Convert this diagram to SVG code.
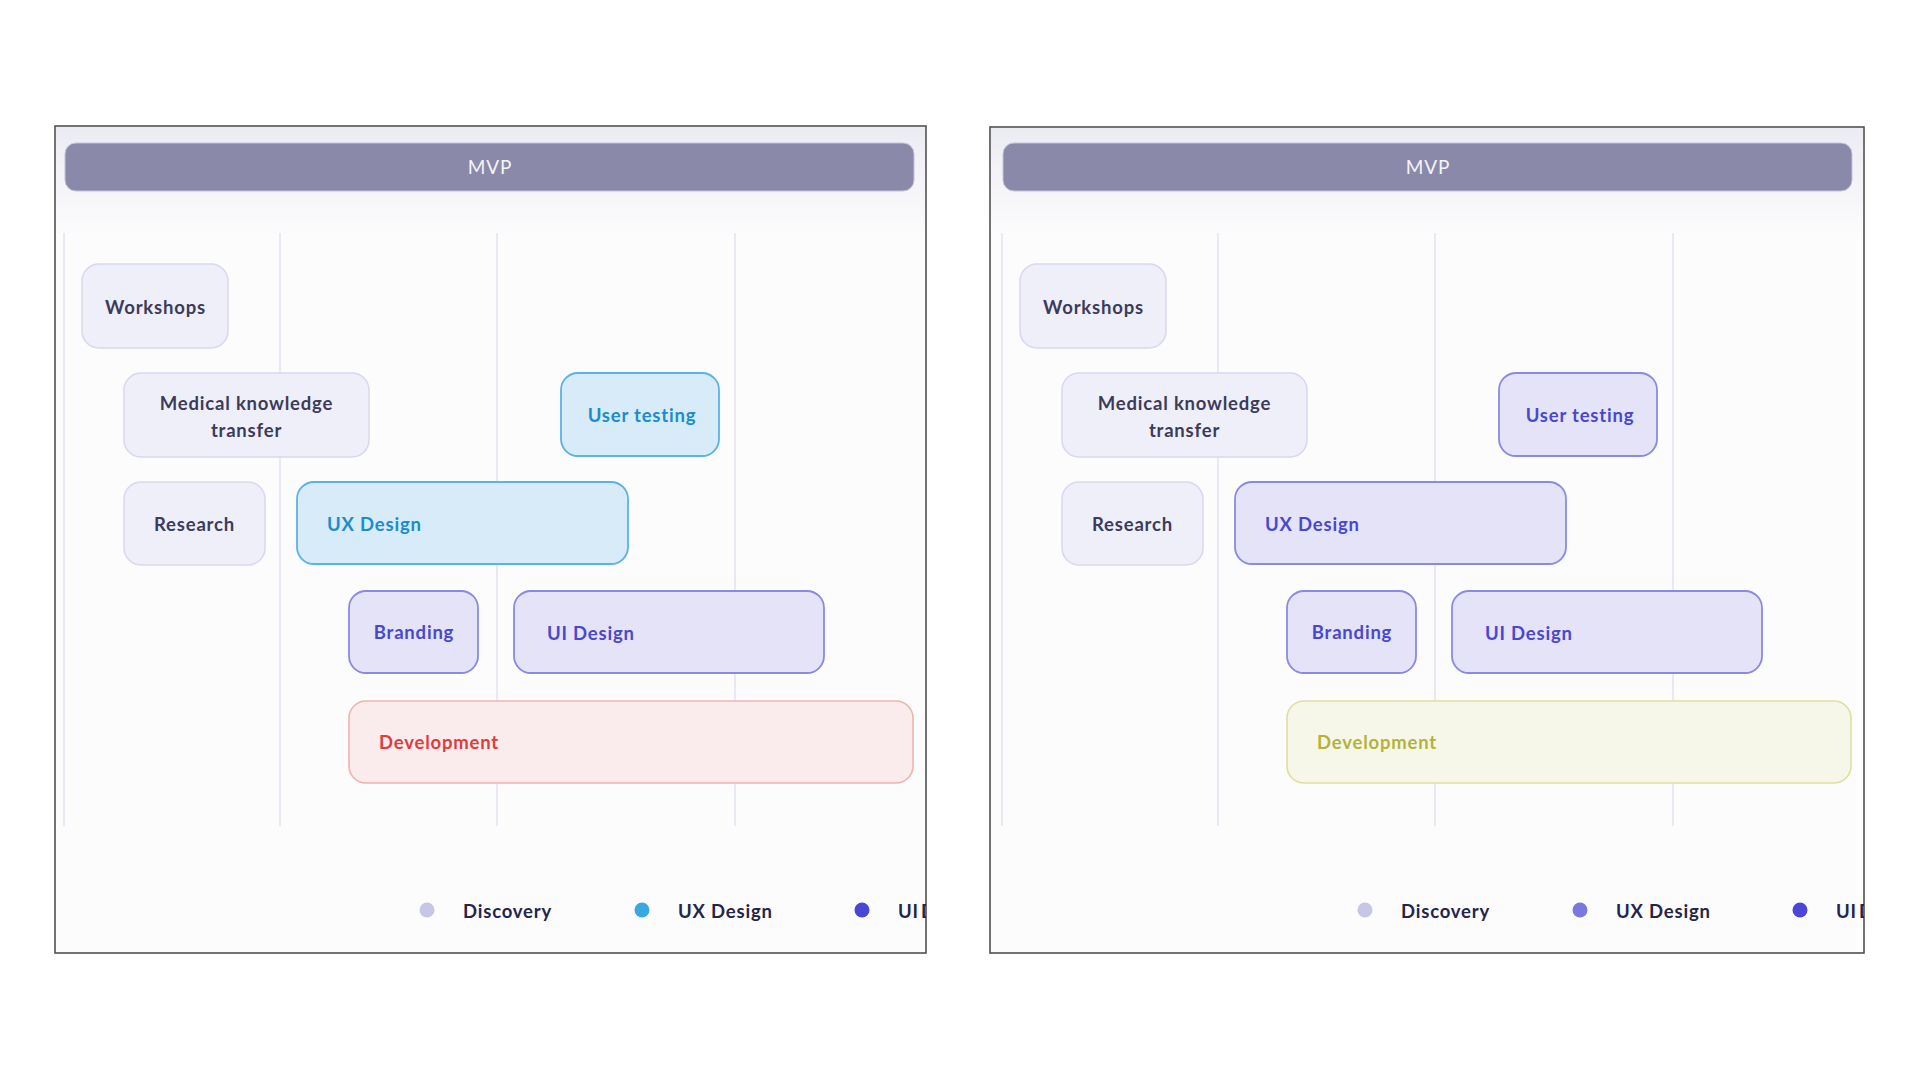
<svg xmlns="http://www.w3.org/2000/svg" width="1920" height="1080" viewBox="0 0 1920 1080">
  <defs>
    <linearGradient id="headShade" x1="0" y1="0" x2="0" y2="1">
      <stop offset="0" stop-color="#ebebf2"/>
      <stop offset="0.55" stop-color="#f5f5f9"/>
      <stop offset="1" stop-color="#fcfcfd"/>
    </linearGradient>
    <clipPath id="clipA"><rect x="55" y="126" width="871" height="827"/></clipPath>
    <clipPath id="clipB"><rect x="990" y="127" width="874" height="826"/></clipPath>
  </defs>
  <style>
    text { font-family: Lato, "Noto Sans", "Liberation Sans", sans-serif; font-size: 18.5px; font-weight: 700; letter-spacing: 0.8px; }
    .panel { fill: #fcfcfd; stroke: #505050; stroke-width: 1.6; }
    .shade { fill: url(#headShade); }
    .bar { fill: #8a89aa; stroke: #c4c3da; stroke-width: 1; }
    .barText { fill: #f4f4f8; font-weight: 400; font-size: 19px; text-anchor: middle; }
    .grid { stroke: #e3e2ef; stroke-width: 1.5; }
    .disc rect { fill: #efeff9; stroke: #d9d7ef; stroke-width: 1.5; }
    .disc text { fill: #3c3b5c; text-anchor: middle; }
    .ux rect { fill: #d7ebf8; stroke: #5ab3e6; stroke-width: 1.8; }
    .ux text { fill: #1b8dcd; }
    .ui rect { fill: #e4e3f7; stroke: #8b89e4; stroke-width: 1.8; }
    .ui text { fill: #4a47cf; }
    .devA rect { fill: #faecec; stroke: #f1b2b2; stroke-width: 1.6; }
    .devA text { fill: #e03b3d; }
    .devB rect { fill: #f6f7e9; stroke: #dfdf9e; stroke-width: 1.6; }
    .devB text { fill: #b3b33a; }
    .mid { text-anchor: middle; }
    .legend text { fill: #25244a; }
    .legend .tight { word-spacing: -3px; }
  </style>

  <!-- Left board -->
  <g id="boardA">
    <rect class="panel" x="55" y="126" width="871" height="827"/>
    <g clip-path="url(#clipA)">
      <rect class="shade" x="56" y="127" width="869" height="110"/>
      <g id="gridA">
        <line class="grid" x1="64" y1="233" x2="64" y2="826"/>
        <line class="grid" x1="280" y1="233" x2="280" y2="826"/>
        <line class="grid" x1="497" y1="233" x2="497" y2="826"/>
        <line class="grid" x1="735" y1="233" x2="735" y2="826"/>
      </g>
      <g id="mvpA">
        <rect class="bar" x="65" y="143" width="849" height="48" rx="11"/>
        <text class="barText" x="490" y="174">MVP</text>
      </g>
      <g id="workshopsA" class="disc">
        <rect x="82" y="264" width="146" height="84" rx="17"/>
        <text x="155.5" y="314">Workshops</text>
      </g>
      <g id="medicalA" class="disc">
        <rect x="124" y="373" width="245" height="84" rx="17"/>
        <text x="246.5" y="410">Medical knowledge</text>
        <text x="246.5" y="437">transfer</text>
      </g>
      <g id="userTestingA" class="ux">
        <rect x="561" y="373" width="158" height="83" rx="17"/>
        <text class="mid" x="642" y="422">User testing</text>
      </g>
      <g id="researchA" class="disc">
        <rect x="124" y="482" width="141" height="83" rx="17"/>
        <text x="194.5" y="531">Research</text>
      </g>
      <g id="uxDesignA" class="ux">
        <rect x="297" y="482" width="331" height="82" rx="17"/>
        <text x="327" y="531">UX Design</text>
      </g>
      <g id="brandingA" class="ui">
        <rect x="349" y="591" width="129" height="82" rx="17"/>
        <text class="mid" x="414" y="639">Branding</text>
      </g>
      <g id="uiDesignA" class="ui">
        <rect x="514" y="591" width="310" height="82" rx="17"/>
        <text x="547" y="640">UI Design</text>
      </g>
      <g id="developmentA" class="devA">
        <rect x="349" y="701" width="564" height="82" rx="17"/>
        <text x="379" y="749">Development</text>
      </g>
      <g id="legendA" class="legend">
        <circle cx="427" cy="910" r="7.5" fill="#c7c6e6"/>
        <text x="463" y="918">Discovery</text>
        <circle cx="642" cy="910" r="7.5" fill="#3aa8e0"/>
        <text x="678" y="918">UX Design</text>
        <circle cx="862" cy="910" r="7.5" fill="#4b47d6"/>
        <text class="tight" x="898" y="918">UI Design</text>
      </g>
    </g>
  </g>

  <!-- Right board -->
  <g id="boardB">
    <rect class="panel" x="990" y="127" width="874" height="826"/>
    <g clip-path="url(#clipB)">
      <rect class="shade" x="991" y="128" width="872" height="109"/>
      <g id="gridB">
        <line class="grid" x1="1002" y1="233" x2="1002" y2="826"/>
        <line class="grid" x1="1218" y1="233" x2="1218" y2="826"/>
        <line class="grid" x1="1435" y1="233" x2="1435" y2="826"/>
        <line class="grid" x1="1673" y1="233" x2="1673" y2="826"/>
      </g>
      <g id="mvpB">
        <rect class="bar" x="1003" y="143" width="849" height="48" rx="11"/>
        <text class="barText" x="1428" y="174">MVP</text>
      </g>
      <g id="workshopsB" class="disc">
        <rect x="1020" y="264" width="146" height="84" rx="17"/>
        <text x="1093.5" y="314">Workshops</text>
      </g>
      <g id="medicalB" class="disc">
        <rect x="1062" y="373" width="245" height="84" rx="17"/>
        <text x="1184.5" y="410">Medical knowledge</text>
        <text x="1184.5" y="437">transfer</text>
      </g>
      <g id="userTestingB" class="ui">
        <rect x="1499" y="373" width="158" height="83" rx="17"/>
        <text class="mid" x="1580" y="422">User testing</text>
      </g>
      <g id="researchB" class="disc">
        <rect x="1062" y="482" width="141" height="83" rx="17"/>
        <text x="1132.5" y="531">Research</text>
      </g>
      <g id="uxDesignB" class="ui">
        <rect x="1235" y="482" width="331" height="82" rx="17"/>
        <text x="1265" y="531">UX Design</text>
      </g>
      <g id="brandingB" class="ui">
        <rect x="1287" y="591" width="129" height="82" rx="17"/>
        <text class="mid" x="1352" y="639">Branding</text>
      </g>
      <g id="uiDesignB" class="ui">
        <rect x="1452" y="591" width="310" height="82" rx="17"/>
        <text x="1485" y="640">UI Design</text>
      </g>
      <g id="developmentB" class="devB">
        <rect x="1287" y="701" width="564" height="82" rx="17"/>
        <text x="1317" y="749">Development</text>
      </g>
      <g id="legendB" class="legend">
        <circle cx="1365" cy="910" r="7.5" fill="#c7c6e6"/>
        <text x="1401" y="918">Discovery</text>
        <circle cx="1580" cy="910" r="7.5" fill="#7b78dd"/>
        <text x="1616" y="918">UX Design</text>
        <circle cx="1800" cy="910" r="7.5" fill="#4b47d6"/>
        <text class="tight" x="1836" y="918">UI Design</text>
      </g>
    </g>
  </g>

  <!-- no links between items; the boards are timelines -->
  <g id="connectors"/>
</svg>
